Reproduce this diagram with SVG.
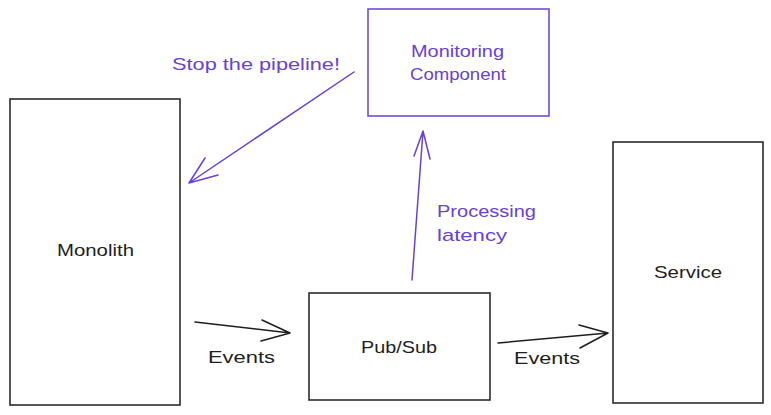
<svg xmlns="http://www.w3.org/2000/svg" width="771" height="415" viewBox="0 0 771 415">
<style>
.box{fill:none;stroke:#1e1e1e;stroke-width:1.5}
.pbox{fill:none;stroke:#6741d9;stroke-width:1.5}
.t{font-family:"Liberation Sans",Arial,sans-serif;font-size:17px;fill:#1e1e1e}
.pt{font-family:"Liberation Sans",Arial,sans-serif;font-size:17px;fill:#6741d9}
.c{stroke:#1e1e1e;stroke-width:1.5;fill:none;stroke-linecap:round}
.pc{stroke:#6741d9;stroke-width:1.5;fill:none;stroke-linecap:round}
</style>
<rect width="771" height="415" fill="#ffffff"/>
<g id="monolith">
<rect class="box" x="10" y="99" width="170" height="306"/>
<text class="t" x="57" y="256" textLength="77" lengthAdjust="spacingAndGlyphs">Monolith</text>
</g>
<g id="monitoring">
<rect class="pbox" x="368" y="9" width="181" height="107"/>
<text class="pt" x="411" y="57" textLength="93" lengthAdjust="spacingAndGlyphs">Monitoring</text>
<text class="pt" x="410" y="80" textLength="96" lengthAdjust="spacingAndGlyphs">Component</text>
</g>
<g id="service">
<rect class="box" x="613" y="142" width="150" height="261"/>
<text class="t" x="654" y="278" textLength="68" lengthAdjust="spacingAndGlyphs">Service</text>
</g>
<g id="pubsub">
<rect class="box" x="309" y="293" width="181" height="107"/>
<text class="t" x="361" y="353" textLength="76" lengthAdjust="spacingAndGlyphs">Pub/Sub</text>
</g>
<g id="connectors">
<path class="pc" d="M354 72 L189 183 M189 183 L205 158 M189 183 L218 175"/>
<path class="pc" d="M412 280 L423 131 M423 131 L414 156 M423 131 L430 159"/>
<path class="c" d="M195 322 L290 333 M290 333 L262 320 M290 333 L261 341"/>
<path class="c" d="M498 343 L608 333 M608 333 L579 325 M608 333 L580 348"/>
</g>
<g id="labels">
<text class="pt" x="172" y="70" textLength="168" lengthAdjust="spacingAndGlyphs">Stop the pipeline!</text>
<text class="pt" x="437" y="217" textLength="99" lengthAdjust="spacingAndGlyphs">Processing</text>
<text class="pt" x="437" y="241" textLength="70" lengthAdjust="spacingAndGlyphs">latency</text>
<text class="t" x="208" y="363" textLength="67" lengthAdjust="spacingAndGlyphs">Events</text>
<text class="t" x="514" y="364" textLength="66" lengthAdjust="spacingAndGlyphs">Events</text>
</g>
</svg>
